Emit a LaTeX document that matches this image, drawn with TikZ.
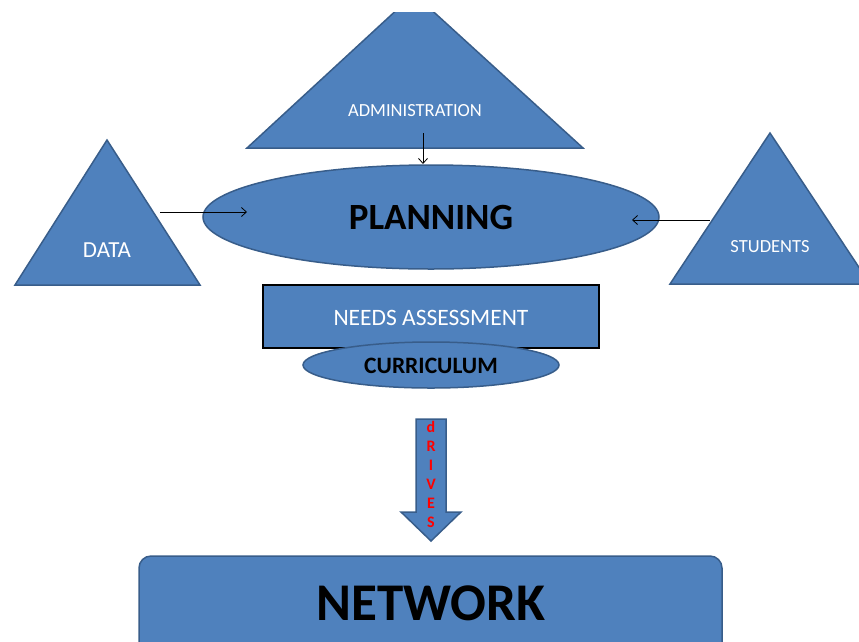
\documentclass[tikz,border=0pt]{standalone}
\usepackage{fontspec}
\setmainfont{Carlito}
\usetikzlibrary{arrows.meta}
\definecolor{officeblue}{HTML}{4F81BD}
\definecolor{officeedge}{HTML}{385D8A}
\begin{document}
\begin{tikzpicture}[
    x=1pt, y=-1pt,
    blueshape/.style={draw=officeedge, fill=officeblue, line width=1.5pt},
    whitetext/.style={text=white, font=\fontsize{18.5}{20}\selectfont, inner sep=0pt},
    blacktext/.style={text=black, font=\bfseries, inner sep=0pt},
    link/.style={-{Straight Barb[length=5pt,width=9pt]}, line width=0.8pt},
    every node/.style={inner sep=2pt}
]
\useasboundingbox (0,0) rectangle (859,641);
\clip (0,0) rectangle (859,641);

% Triangles
\begin{scope}
\clip (0,12) rectangle (859,641);
\draw[blueshape] (247,148) -- (414,-6) -- (583,148) -- cycle;
\end{scope}
\draw[blueshape] (15,285) -- (107,140) -- (200,285) -- cycle;
\draw[blueshape] (670,284) -- (770,133) -- (870,284) -- cycle;

\node[whitetext] (admin) at (415,111) {ADMINISTRATION};
\node[whitetext, font=\fontsize{23}{25}\selectfont] (data) at (107,250) {DATA};
\node[whitetext, font=\fontsize{18.5}{20}\selectfont] (students) at (770,247) {STUDENTS};

% Planning ellipse
\draw[blueshape] (431,217) ellipse [x radius=228, y radius=52];
\node[blacktext, font=\bfseries\fontsize{37}{40}\selectfont] (planning) at (431,217) {PLANNING};

% Needs assessment and curriculum
\draw[fill=officeblue, draw=black, line width=2pt] (263,285) rectangle (599,348);
\node[whitetext, font=\fontsize{23.5}{25}\selectfont] (needs) at (431,318) {NEEDS ASSESSMENT};
\draw[blueshape] (431,365) ellipse [x radius=128, y radius=23];
\node[blacktext, font=\bfseries\fontsize{23.5}{25}\selectfont] (curriculum) at (431,366) {CURRICULUM};

% Drives arrow
\draw[blueshape] (416,419) -- (446,419) -- (446,512) -- (461,512) -- (431,541)
    -- (401,512) -- (416,512) -- cycle;
\node[text=red, font=\bfseries\fontsize{16}{19}\selectfont, align=center, inner sep=0pt]
    (drives) at (431,474) {d\\R\\I\\V\\E\\S};

% Network box
\draw[blueshape, rounded corners=12pt] (139,556) rectangle (722,660);
\node[blacktext, font=\bfseries\fontsize{53}{56}\selectfont] (network) at (431,603) {NETWORK};

% Connectors
\coordinate (adminout) at (423,133);
\coordinate (planntop) at (423,164);
\coordinate (dataout) at (160,212);
\coordinate (plannleft) at (247,212);
\coordinate (studout) at (710,220);
\coordinate (plannright) at (632,220);
\draw[link] (adminout) -- (planntop);
\draw[link] (dataout) -- (plannleft);
\draw[link] (studout) -- (plannright);

\end{tikzpicture}
\end{document}
